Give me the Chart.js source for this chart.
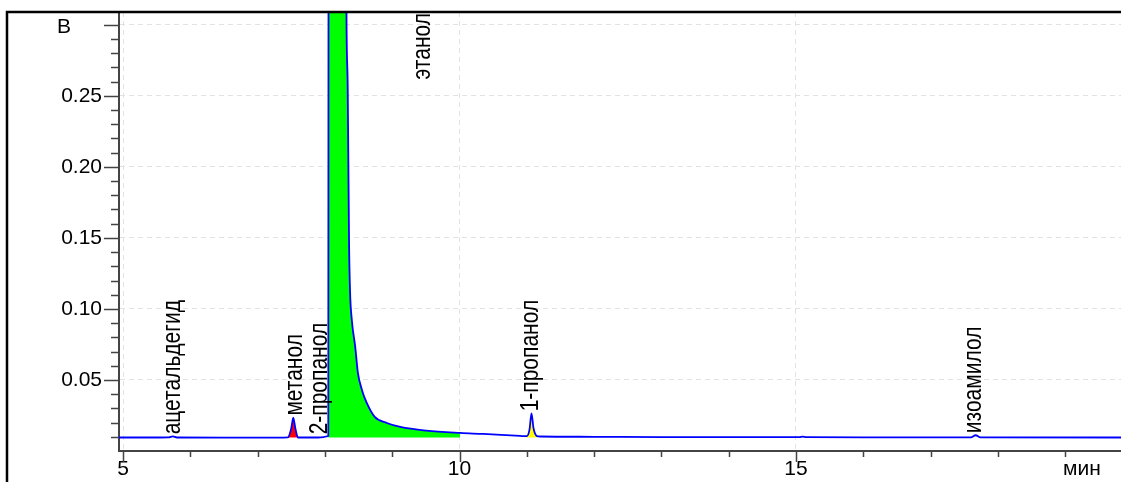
<!DOCTYPE html>
<html>
<head>
<meta charset="utf-8">
<script src="https://cdn.jsdelivr.net/npm/chart.js@4.4.1/dist/chart.umd.min.js"></script>
<style>
  html, body { margin: 0; padding: 0; background: #fff; }
  #wrap { width: 1121px; height: 482px; position: relative; }
</style>
</head>
<body>
<div id="wrap"><canvas id="chrom"></canvas></div>
<script>
// retention time, min
const timeMin = [
  4.94, 5.5, 5.68, 5.74, 5.8, 6.5, 7.3, 7.45, 7.5, 7.53, 7.56, 7.6,
  7.9, 7.98, 8.03, 8.05, 8.06, 8.28, 8.32, 8.338, 8.358, 8.373, 8.40,
  8.45, 8.49, 8.55, 8.62, 8.74, 8.92, 9.12, 9.51, 10.01, 10.35, 10.9,
  11.0, 11.04, 11.07, 11.1, 11.15, 11.2, 12.0, 13.0, 14.0, 15.05, 15.1,
  15.15, 16.0, 17.6, 17.67, 17.74, 19.83
];
// detector signal, V
const signalV = [
  0.0095, 0.0095, 0.0096, 0.0103, 0.0095, 0.0094, 0.0094, 0.0096, 0.016, 0.0235, 0.016, 0.0095,
  0.0095, 0.0098, 0.0103, 0.0105, 0.95, 0.95, 0.31, 0.259, 0.149, 0.113, 0.092,
  0.0735, 0.055, 0.043, 0.034, 0.024, 0.0197, 0.0169, 0.0143, 0.0127, 0.012, 0.0106,
  0.0104, 0.015, 0.0265, 0.016, 0.0105, 0.0102, 0.0100, 0.0098, 0.0097, 0.0097, 0.0101,
  0.0097, 0.0096, 0.0096, 0.0111, 0.0096, 0.0095
];

const peakNames = ['ацетальдегид', 'метанол', '2-пропанол', 'этанол', '1-пропанол', 'изоамилол'];
const peakTimes = [5.74, 7.53, 7.98, 8.1, 11.07, 17.67];
const labelTimes = [5.74, 7.55, 7.93, 9.46, 11.06, 17.65];

// integrated (filled) peaks
const filledPeaks = ['метанол', 'этанол', '1-пропанол'];
const fillStart = [7.45, 8.05, 11.0];
const fillEnd = [7.6, 10.01, 11.15];
const fillColors = ['#ff0000', '#00ff00', '#ffff00'];
const baselineV = 0.0095;

const xMajor = [5, 10, 15];
const yMajor = [0.05, 0.10, 0.15, 0.20, 0.25, 0.30];

const trace = timeMin.map((t, i) => ({ x: t, y: signalV[i] }));

const fillSets = filledPeaks.map((name, k) => ({
  label: name,
  data: trace.filter(p => p.x >= fillStart[k] && p.x <= fillEnd[k]),
  borderWidth: 0,
  pointRadius: 0,
  backgroundColor: fillColors[k],
  fill: { value: baselineV },
  cubicInterpolationMode: 'monotone'
}));

const FONT = '"Liberation Sans", Arial, sans-serif';

const decor = {
  id: 'decor',
  afterDraw(chart) {
    const ctx = chart.ctx;
    const xs = chart.scales.x, ys = chart.scales.y;
    const area = chart.chartArea;
    ctx.save();

    // outer frame
    ctx.strokeStyle = '#000';
    ctx.lineWidth = 2.5;
    ctx.beginPath();
    ctx.moveTo(7, chart.height);
    ctx.lineTo(7, 12);
    ctx.lineTo(chart.width, 12);
    ctx.stroke();

    // tick marks
    ctx.strokeStyle = '#444';
    ctx.lineWidth = 1.5;
    ctx.beginPath();
    for (let i = 1; i <= 30; i++) {
      const py = Math.round(ys.getPixelForValue(i / 100)) + 0.5;
      const len = i % 5 === 0 ? 15 : 8;
      ctx.moveTo(area.left - len, py);
      ctx.lineTo(area.left, py);
    }
    for (let m = 5; m <= 19; m++) {
      const px = Math.round(xs.getPixelForValue(m)) + 0.5;
      const len = m % 5 === 0 ? 11 : 6;
      ctx.moveTo(px, area.bottom);
      ctx.lineTo(px, area.bottom + len);
    }
    ctx.stroke();

    // units
    ctx.fillStyle = '#000';
    ctx.font = '21px ' + FONT;
    ctx.textBaseline = 'middle';
    ctx.textAlign = 'left';
    ctx.fillText('В', 57, ys.getPixelForValue(0.30) + 2);
    ctx.textAlign = 'center';
    ctx.fillText('мин', xs.getPixelForValue(19.25), area.bottom + 18);

    // peak names, written upwards above each peak
    peakNames.forEach((name, i) => {
      const px = xs.getPixelForValue(labelTimes[i]);
      const near = trace.filter(p => Math.abs(p.x - peakTimes[i]) <= 0.06);
      const apex = Math.max(...near.map(p => p.y), baselineV);
      ctx.save();
      if (apex > ys.max) {
        // off-scale peak: name hangs from the top
        ctx.translate(px, area.top + 1);
        ctx.rotate(-Math.PI / 2);
        ctx.scale(1, 1.2);
        ctx.textAlign = 'right';
      } else {
        ctx.translate(px, ys.getPixelForValue(apex) - 2);
        ctx.rotate(-Math.PI / 2);
        ctx.scale(1, 1.2);
        ctx.textAlign = 'left';
      }
      ctx.textBaseline = 'middle';
      ctx.fillText(name, 0, 0);
      ctx.restore();
    });
    ctx.restore();
  }
};

new Chart(document.getElementById('chrom'), {
  type: 'line',
  data: {
    datasets: [
      {
        label: 'сигнал',
        data: trace,
        borderColor: '#0000ff',
        borderWidth: 1.8,
        pointRadius: 0,
        fill: false,
        cubicInterpolationMode: 'monotone'
      },
      ...fillSets
    ]
  },
  options: {
    responsive: true,
    maintainAspectRatio: false,
    animation: false,
    layout: { padding: { top: 12, left: 0, right: 0, bottom: 0 }, autoPadding: false },
    plugins: { legend: { display: false }, tooltip: { enabled: false } },
    scales: {
      x: {
        type: 'linear',
        min: 4.94,
        max: 19.83,
        afterBuildTicks: axis => { axis.ticks = xMajor.map(v => ({ value: v })); },
        afterFit: axis => {
          axis.height = 31;
          axis.paddingLeft = 0; axis.paddingRight = 0;
        },
        grid: { color: '#e2e2e2', lineWidth: 1, drawTicks: false },
        border: { display: true, color: '#444', width: 2, dash: [5, 4] },
        ticks: {
          padding: 6,
          color: '#000',
          maxRotation: 0,
          font: { family: FONT, size: 21 }
        }
      },
      y: {
        min: 0,
        max: 0.309,
        afterBuildTicks: axis => { axis.ticks = yMajor.map(v => ({ value: v })); },
        afterFit: axis => {
          axis.width = 119;
          axis.paddingTop = 0; axis.paddingBottom = 0;
        },
        grid: { color: '#e2e2e2', lineWidth: 1, drawTicks: false },
        border: { display: true, color: '#444', width: 2, dash: [5, 4] },
        ticks: {
          padding: 17,
          color: '#000',
          font: { family: FONT, size: 21 },
          callback: v => (Math.abs(v - 0.30) < 1e-6 ? '' : v.toFixed(2))
        }
      }
    }
  },
  plugins: [decor]
});
</script>
</body>
</html>
